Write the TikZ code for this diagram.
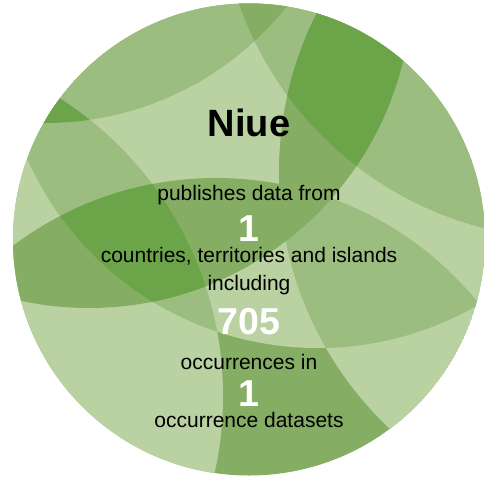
\documentclass[tikz,border=0pt]{standalone}
\usepackage{fontspec}
\setmainfont{Liberation Sans}
\definecolor{gA}{HTML}{BAD2A2}
\definecolor{gB}{HTML}{9BBD80}
\definecolor{gC}{HTML}{85AE64}
\definecolor{gD}{HTML}{6CA44A}
\tikzset{
  lbl/.style={anchor=base, inner sep=0pt, text=black, font=\fontsize{21}{25}\selectfont},
  num/.style={anchor=base, inner sep=0pt, text=white, text depth=0pt, font=\bfseries\fontsize{37.5}{40}\selectfont},
  ttl/.style={anchor=base, inner sep=0pt, text=black, font=\bfseries\fontsize{38}{40}\selectfont}
}
\begin{document}
\begin{tikzpicture}[x=1pt,y=-1pt]
\useasboundingbox (0,0) rectangle (484,479);
\begin{scope}
  \clip (249,239.5) circle (236pt);
  \fill[gC] (249,239.5) circle (236pt);
  \fill[gA] (-130,396) circle (353pt);
  \fill[gA] (318,30) circle (318pt);
  \fill[gA] (632,172) circle (353pt);
  \fill[gB] (45,-186) circle (309pt);
  \fill[gB] (571,-113) circle (352pt);
  \begin{scope}\clip (45,-186) circle (309pt); \fill[gC] (571,-113) circle (352pt);\end{scope}
  \begin{scope}\clip (-130,396) circle (353pt); \fill[gB] (318,30) circle (318pt);\end{scope}
  \begin{scope}\clip (45,-186) circle (309pt); \clip (-130,396) circle (353pt); \fill[gD] (318,30) circle (318pt);\end{scope}
  \begin{scope}\clip (632,172) circle (353pt); \clip (216,516) circle (338pt); \fill[gB] (318,30) circle (318pt);\end{scope}
  \begin{scope}\clip (89,-15) circle (323pt); \fill[gC] (216,516) circle (338pt);\end{scope}
  \begin{scope}\clip (89,-15) circle (323pt); \clip (216,516) circle (338pt); \clip (-130,396) circle (353pt); \fill[gD] (318,30) circle (318pt);\end{scope}
  \begin{scope}\clip (632,172) circle (353pt); \fill[gC] (89,-15) circle (323pt);\end{scope}
  \begin{scope}\clip (632,172) circle (353pt); \clip (89,-15) circle (323pt); \fill[gD] (571,-113) circle (352pt);\end{scope}
\end{scope}
\node[ttl] (title) at (249,136.5) {Niue};
\node[lbl] (l1) at (249,200) {publishes data from};
\node[num] (n1) at (249,241) {1};
\node[lbl] (l2) at (249,262) {countries, territories and islands};
\node[lbl] (l3) at (249,290.5) {including};
\node[num] (n2) at (249,334.5) {705};
\node[lbl] (l4) at (249,369.5) {occurrences in};
\node[num] (n3) at (249,406) {1};
\node[lbl] (l5) at (249,427.5) {occurrence datasets};
\end{tikzpicture}
\end{document}
